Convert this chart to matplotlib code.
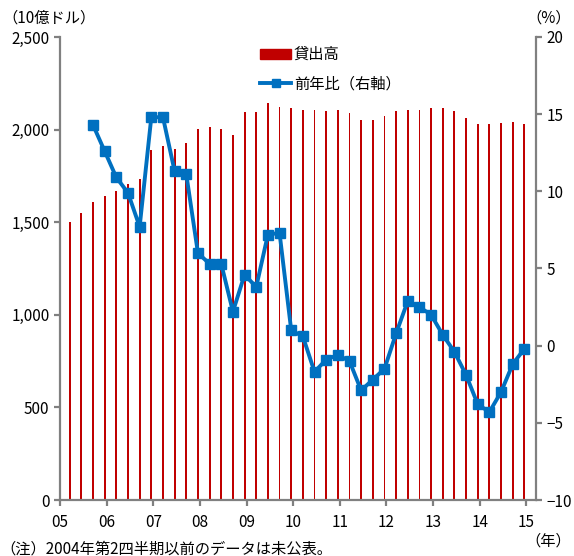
import matplotlib.pyplot as plt
from matplotlib.lines import Line2D
from matplotlib.patches import Patch

plt.rcParams['font.family'] = ['Noto Sans CJK JP', 'DejaVu Sans']

# quarterly data, 2005Q1 - 2014Q4
years = [y for y in range(2005, 2015) for _ in range(4)]
quarters = [1, 2, 3, 4] * 10

loans = [1503, 1548, 1611, 1641, 1668, 1704, 1733, 1890, 1913, 1895,
         1929, 2001, 2014, 2001, 1972, 2093, 2093, 2142, 2120, 2118,
         2106, 2106, 2100, 2106, 2088, 2052, 2052, 2074, 2100, 2106,
         2106, 2118, 2118, 2100, 2064, 2032, 2032, 2037, 2043, 2032]

# year-on-year change (%), available from 2005Q3
yoy = [None, None,
       14.3, 12.6, 10.9, 9.9, 7.7, 14.8, 14.8, 11.3, 11.1, 6.0,
       5.3, 5.3, 2.2, 4.6, 3.8, 7.2, 7.3, 1.0, 0.6, -1.7,
       -0.9, -0.6, -1.0, -2.9, -2.2, -1.5, 0.8, 2.9, 2.5, 2.0,
       0.7, -0.4, -1.9, -3.8, -4.3, -3.0, -1.2, -0.2]

year_ticks = list(range(2005, 2016))
year_labels = [f"{y % 100:02d}" for y in year_ticks]

# place each quarter at the middle of its last month
x = [y + (3 * q - 0.5) / 12 for y, q in zip(years, quarters)]
x_line = [xi for xi, v in zip(x, yoy) if v is not None]
y_line = [v for v in yoy if v is not None]

red = "#C00000"
blue = "#0070C0"
grey = "#808080"

fig = plt.figure(figsize=(5.74, 5.56), dpi=100)
ax = fig.add_axes([0.1045, 0.1007, 0.8295, 0.8328])
ax.bar(x, loans, width=0.04, color=red, zorder=2)
ax.set_xlim(2005, 2015.21)
ax.set_ylim(0, 2500)
ax.set_yticks([0, 500, 1000, 1500, 2000, 2500])
ax.set_yticklabels([f"{v:,}" for v in [0, 500, 1000, 1500, 2000, 2500]])
ax.set_xticks(year_ticks)
ax.set_xticklabels(year_labels)

ax2 = ax.twinx()
ax2.plot(x_line, y_line, color=blue, lw=2.8, marker="s", ms=7, zorder=3)
ax2.set_ylim(-10, 20)
ax2.set_yticks([-10, -5, 0, 5, 10, 15, 20])
ax2.set_yticklabels(["\u221210", "\u22125", "0", "5", "10", "15", "20"])

for a in (ax, ax2):
    a.spines["top"].set_visible(False)
    for s in ("left", "right", "bottom"):
        a.spines[s].set_color(grey)
        a.spines[s].set_linewidth(1.6)
    a.tick_params(colors=grey, width=1.6, length=4, labelsize=11,
                  labelcolor="black")
ax.spines["right"].set_visible(False)
ax2.spines["left"].set_visible(False)
ax2.spines["bottom"].set_visible(False)
ax.tick_params(axis="x", pad=6)

handles = [Patch(color=red),
           Line2D([], [], color=blue, lw=2.8, marker="s", ms=6)]
leg = ax.legend(handles, ["貸出高", "前年比（右軸）"], loc="upper left",
                bbox_to_anchor=(0.392, 1.01), frameon=False, fontsize=11,
                handlelength=2.0, handleheight=0.6, handletextpad=0.2,
                labelspacing=0.8)

fig.text(0.005, 0.968, "（10億ドル）", fontsize=11, va="center")
fig.text(0.995, 0.968, "（%）", fontsize=11, va="center", ha="right")
fig.text(0.995, 0.027, "（年）", fontsize=11, va="center", ha="right")
fig.text(0.0, 0.013, "（注）2004年第2四半期以前のデータは未公表。", fontsize=11,
         va="center")

fig.savefig("out.png", dpi=100)
